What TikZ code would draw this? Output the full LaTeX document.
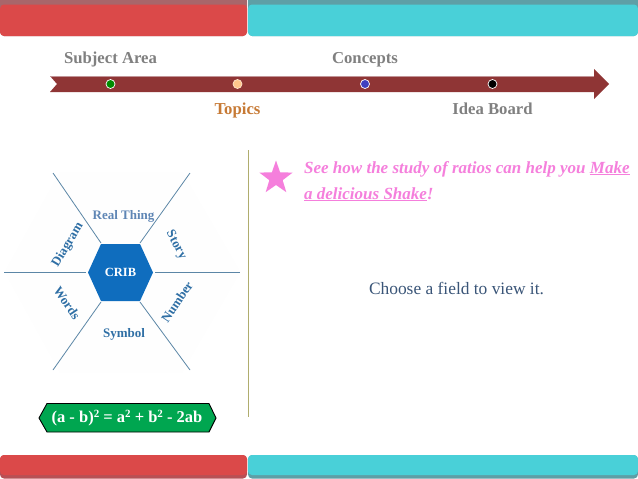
\documentclass[tikz,border=0pt]{standalone}
\usepackage{fontspec}
\usetikzlibrary{shapes.geometric}
\setmainfont{Liberation Serif}
\definecolor{barred}{HTML}{DB4949}
\definecolor{barreddk}{HTML}{A8666A}
\definecolor{barredlow}{HTML}{B85055}
\definecolor{barteal}{HTML}{49D0D8}
\definecolor{bartealdk}{HTML}{5E9FA6}
\definecolor{arrowred}{HTML}{8F3535}
\definecolor{hexblue}{HTML}{0F6DBE}
\definecolor{spoke}{HTML}{5B86A6}
\definecolor{lblue}{HTML}{2F6FA5}
\definecolor{lblue2}{HTML}{5F86B5}
\definecolor{greyt}{HTML}{808080}
\definecolor{oranget}{HTML}{C77A35}
\definecolor{pinkt}{HTML}{F57FDC}
\definecolor{navyt}{HTML}{3A5578}
\definecolor{olive}{HTML}{B0AD6E}
\definecolor{formula}{HTML}{00A650}
\newcommand{\supr}[1]{\raisebox{0.32em}{\fontsize{11}{11}\selectfont #1}}
\tikzset{
  x=1pt,y=-1pt,
  head/.style={font=\bfseries\fontsize{16.7}{16.7}\selectfont,anchor=base,text=greyt,inner sep=0},
  petal/.style={font=\bfseries\fontsize{13}{13}\selectfont,text=lblue,inner sep=0},
  spokeline/.style={draw=spoke,line width=0.8pt},
  dot/.style={circle,draw=white,line width=0.7pt,minimum size=9pt,inner sep=0},
  pinktxt/.style={font=\bfseries\itshape\fontsize{17}{17}\selectfont,text=pinkt,anchor=base west,inner sep=0},
}
\begin{document}
\begin{tikzpicture}
\useasboundingbox (0,0) rectangle (638,479);
\fill[white] (0,0) rectangle (638,479);
% top bars
\fill[barreddk,rounded corners=4pt] (0,-6) rectangle (247,36);
\fill[barred,rounded corners=4pt] (0,4.5) rectangle (247,36);
\fill[bartealdk,rounded corners=4pt] (248,-6) rectangle (638,36);
\fill[barteal,rounded corners=4pt] (248,4.5) rectangle (638,36);
% bottom bars
\fill[barredlow,rounded corners=4pt] (0,455) rectangle (247,478.5);
\fill[barred,rounded corners=4pt] (0,455) rectangle (247,475);
\fill[bartealdk,rounded corners=4pt] (248,455) rectangle (638,478.5);
\fill[barteal,rounded corners=4pt] (248,455) rectangle (638,475);
% timeline arrow
\fill[arrowred] (50,76) -- (594,76) -- (594,69) -- (609,84) -- (594,99) -- (594,92) -- (50,92) -- (57,84) -- cycle;
\draw[barreddk!70!white,line width=0.8pt] (50,76.4) -- (594,76.4);
\node[dot,fill=green!55!black] (d1) at (110.5,84) {};
\node[dot,fill=orange!45!white,draw=orange!20!white] (d2) at (237.5,84) {};
\node[dot,fill=blue!50!gray] (d3) at (365,84) {};
\node[dot,fill=black] (d4) at (492.5,84) {};
\node[head] (t1) at (110.5,63) {Subject Area};
\node[head] (t3) at (365,63) {Concepts};
\node[head,text=oranget] (t2) at (237.5,114) {Topics};
\node[head] (t4) at (492.5,114) {Idea Board};
% faint background hexagon
\fill[black!0.5] (5,272) -- (60,172) -- (182,172) -- (240,272) -- (182,372) -- (60,372) -- cycle;
% crib
\coordinate (s1) at (4,272.5);
\coordinate (s2) at (240,272.5);
\coordinate (s3) at (53,173);
\coordinate (s4) at (190,173);
\coordinate (s5) at (53,370);
\coordinate (s6) at (190,370);
\path[fill=hexblue] (88,272.5) coordinate (h1) -- (101,244) coordinate (h2) -- (140,244) coordinate (h3) -- (153,272.5) coordinate (h4) -- (140,301) coordinate (h5) -- (101,301) coordinate (h6) -- cycle;
\draw[spokeline] (s1) -- (86,272.5);
\draw[spokeline] (155,272.5) -- (s2);
\draw[spokeline] (s3) -- (101,243);
\draw[spokeline] (s4) -- (140,243);
\draw[spokeline] (s5) -- (101,302);
\draw[spokeline] (s6) -- (140,302);
\node[font=\bfseries\fontsize{12.5}{12.5}\selectfont,text=white,inner sep=0] (crib) at (120.5,272.5) {CRIB};
\node[petal,text=lblue2] (p1) at (123.5,216) {Real Thing};
\node[petal,rotate=-62] (p2) at (176,245) {Story};
\node[petal,rotate=56] (p3) at (177,302) {Number};
\node[petal] (p4) at (124,334) {Symbol};
\node[petal,rotate=-56] (p5) at (67,303) {Words};
\node[petal,rotate=59] (p6) at (68,245) {Diagram};
% formula
\path[fill=formula,draw=black,line width=0.9pt] (39,418) -- (47,403.5) -- (209,403.5) -- (216,418) -- (209,432) -- (47,432) -- cycle;
\node[font=\bfseries\fontsize{16.5}{16.5}\selectfont,text=white,inner sep=0] (f) at (127,418) {(a - b)\supr{2} = a\supr{2} + b\supr{2} - 2ab};
% divider
\draw[olive,line width=0.9pt] (248.5,150) -- (248.5,417);
% star
\node[star,star points=5,star point ratio=2.5,fill=pinkt,minimum size=35pt,inner sep=0] (star) at (276,178) {};
% pink text
\node[pinktxt] (l1) at (304,173) {See how the study of ratios can help you \underline{Make}};
\node[pinktxt] (l2) at (304,199) {\underline{a delicious Shake}!};
\node[font=\fontsize{17.4}{17.4}\selectfont,text=navyt,inner sep=0,anchor=base] (c) at (456.5,294) {Choose a field to view it.};
\end{tikzpicture}
\end{document}
